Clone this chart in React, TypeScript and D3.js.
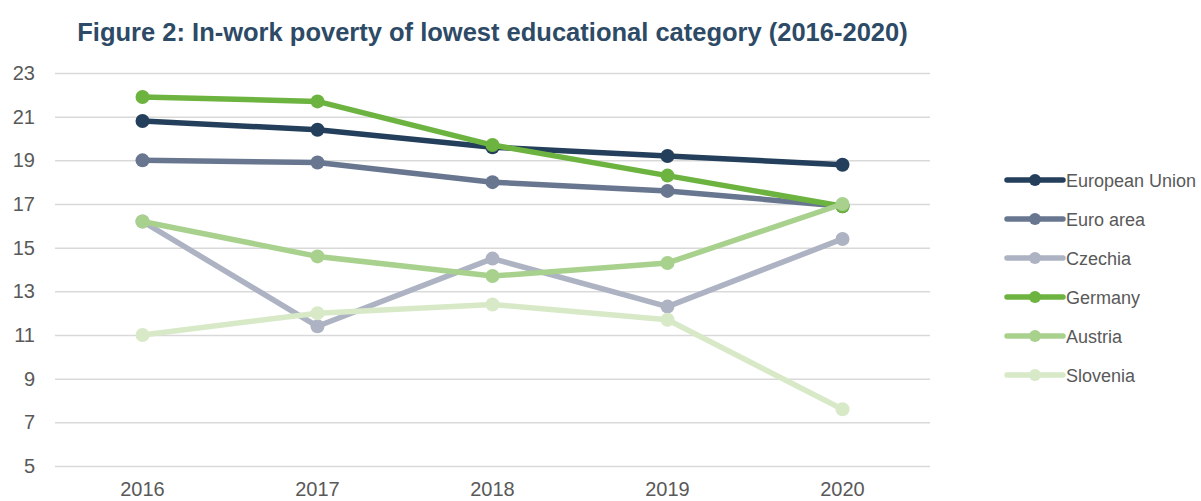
import * as d3 from "d3";
import React, { useEffect, useRef } from "react";

const years = ["2016", "2017", "2018", "2019", "2020"];
const yTicks = [5, 7, 9, 11, 13, 15, 17, 19, 21, 23];

const seriesNames = ["European Union", "Euro area", "Czechia", "Germany", "Austria", "Slovenia"];
const seriesColors = ["#243f5b", "#68778f", "#adb3c3", "#6db33f", "#a9d18e", "#d8e9c8"];

const euValues = [20.8, 20.4, 19.6, 19.2, 18.8];
const euroAreaValues = [19.0, 18.9, 18.0, 17.6, 16.9];
const czechiaValues = [16.2, 11.4, 14.5, 12.3, 15.4];
const germanyValues = [21.9, 21.7, 19.7, 18.3, 16.9];
const austriaValues = [16.2, 14.6, 13.7, 14.3, 17.0];
const sloveniaValues = [11.0, 12.0, 12.4, 11.7, 7.6];

const allValues = [euValues, euroAreaValues, czechiaValues, germanyValues, austriaValues, sloveniaValues];

const width = 1201;
const height = 501;
const margin = { left: 55, top: 73, right: 271, bottom: 35 };
const font = "'Liberation Sans', Arial, sans-serif";

const App = () => {
  const ref = useRef<SVGSVGElement>(null);

  useEffect(() => {
    const svg = d3.select(ref.current);
    svg.selectAll("*").remove();

    const chartWidth = width - margin.left - margin.right;
    const chartHeight = height - margin.top - margin.bottom;

    const x = d3.scaleBand().domain(years).range([0, chartWidth]);
    const y = d3.scaleLinear().domain([5, 23]).range([chartHeight, 0]);

    svg
      .append("text")
      .attr("x", margin.left + chartWidth / 2)
      .attr("y", 41)
      .attr("text-anchor", "middle")
      .attr("font-family", font)
      .attr("font-weight", "bold")
      .attr("font-size", 25.5)
      .attr("fill", "#2d4a66")
      .text("Figure 2: In-work poverty of lowest educational category (2016-2020)");

    const g = svg.append("g").attr("transform", `translate(${margin.left},${margin.top})`);

    // gridlines
    const yAxis = d3.axisLeft(y).tickValues(yTicks).tickSize(-chartWidth).tickPadding(20);
    const yAxisG = g.append("g").call(yAxis);
    yAxisG.select(".domain").remove();
    yAxisG.selectAll(".tick line").attr("stroke", "#d9d9d9").attr("stroke-width", 1.5);
    yAxisG
      .selectAll(".tick text")
      .attr("font-family", font)
      .attr("font-size", 20)
      .attr("fill", "#595959");

    const xAxis = d3.axisBottom(x).tickSize(0).tickPadding(16);
    const xAxisG = g.append("g").attr("transform", `translate(0,${chartHeight})`).call(xAxis);
    xAxisG.select(".domain").remove();
    xAxisG
      .selectAll(".tick text")
      .attr("font-family", font)
      .attr("font-size", 20)
      .attr("fill", "#595959");

    const cx = (i: number) => (x(years[i]) as number) + x.bandwidth() / 2;
    const line = d3
      .line<number>()
      .x((d, i) => cx(i))
      .y((d) => y(d));

    allValues.forEach((vals, s) => {
      const sg = g.append("g");
      sg.append("path")
        .attr("d", line(vals))
        .attr("fill", "none")
        .attr("stroke", seriesColors[s])
        .attr("stroke-width", 5.5)
        .attr("stroke-linejoin", "round");
      sg.selectAll("circle")
        .data(vals)
        .join("circle")
        .attr("cx", (d, i) => cx(i))
        .attr("cy", (d) => y(d))
        .attr("r", 7)
        .attr("fill", seriesColors[s]);
    });

    // legend
    const legend = svg.append("g").attr("transform", "translate(1005,180)");
    seriesNames.forEach((name, s) => {
      const lg = legend.append("g").attr("transform", `translate(0,${s * 39})`);
      lg.append("line")
        .attr("x1", 2)
        .attr("x2", 58)
        .attr("stroke", seriesColors[s])
        .attr("stroke-width", 5.5)
        .attr("stroke-linecap", "round");
      lg.append("circle").attr("cx", 30).attr("r", 6).attr("fill", seriesColors[s]);
      lg.append("text")
        .attr("x", 61)
        .attr("y", 6.5)
        .attr("font-family", font)
        .attr("font-size", 18)
        .attr("fill", "#595959")
        .text(name);
    });
  }, []);

  return (
    <div style={{ position: "absolute", left: 0, top: 0 }}>
      <svg ref={ref} width={width} height={height} style={{ display: "block", background: "#fff" }} />
    </div>
  );
};

export default App;
